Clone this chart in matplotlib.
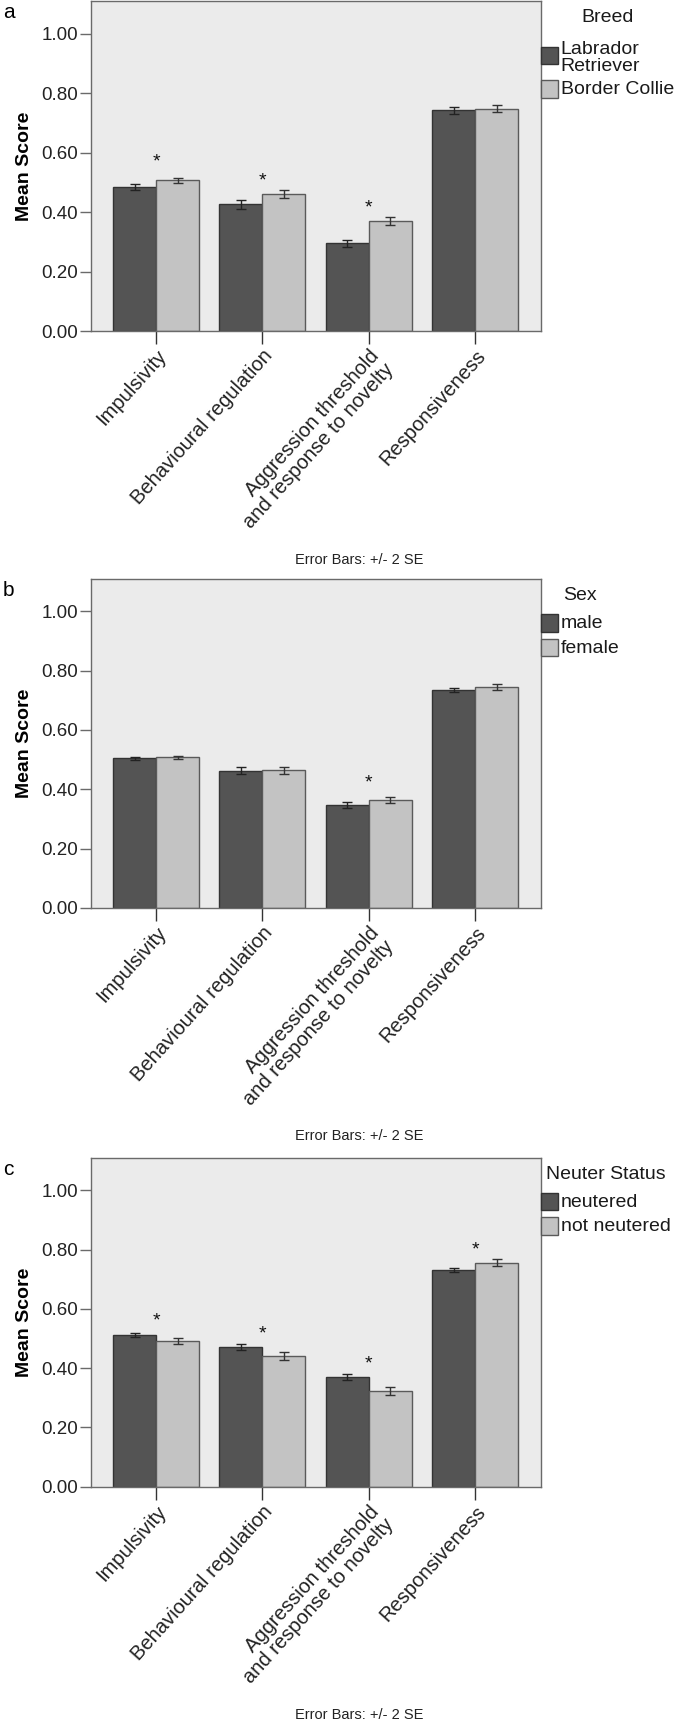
import numpy as np
import matplotlib
matplotlib.use('Agg')
import matplotlib.pyplot as plt
from matplotlib.patches import Rectangle

plt.rcParams['font.family'] = ['Liberation Sans', 'DejaVu Sans']

categories = ['Impulsivity', 'Behavioural regulation',
              'Aggression threshold\nand response to novelty', 'Responsiveness']

# panel a: breed
breed_names = ['Labrador\nRetriever', 'Border Collie']
lab_mean = [0.483, 0.427, 0.295, 0.743]
lab_err = [0.010, 0.015, 0.011, 0.012]
bc_mean = [0.507, 0.462, 0.371, 0.748]
bc_err = [0.009, 0.013, 0.014, 0.012]
breed_star = [0.567, 0.505, 0.415, None]

# panel b: sex
sex_names = ['male', 'female']
male_mean = [0.505, 0.463, 0.347, 0.735]
male_err = [0.005, 0.011, 0.010, 0.008]
female_mean = [0.508, 0.464, 0.364, 0.745]
female_err = [0.005, 0.012, 0.011, 0.010]
sex_star = [None, None, 0.423, None]

# panel c: neuter status
neuter_names = ['neutered', 'not neutered']
neut_mean = [0.512, 0.472, 0.369, 0.731]
neut_err = [0.007, 0.010, 0.010, 0.008]
notneut_mean = [0.492, 0.441, 0.323, 0.755]
notneut_err = [0.010, 0.014, 0.012, 0.012]
neuter_star = [0.558, 0.514, 0.414, 0.798]

yticks = [0.0, 0.2, 0.4, 0.6, 0.8, 1.0]

dark = '#545454'
light = '#c3c3c3'
bg = '#ebebeb'
spine = '#6a6a6a'

fig = plt.figure(figsize=(6.75, 17.22), dpi=100)
W, H = 675, 1722

def fx(px):
    return px / W

def fy(py):
    return 1 - py / H

# letter, legend title, names, series..., axes top/bottom (px), legend patch tops (px below axes top)
panels = [
    ('a', 'Breed', breed_names, lab_mean, lab_err, bc_mean, bc_err, breed_star, 1, 331, (45.7, 79.0)),
    ('b', 'Sex', sex_names, male_mean, male_err, female_mean, female_err, sex_star, 578.7, 908, (35.3, 60.0)),
    ('c', 'Neuter Status', neuter_names, neut_mean, neut_err, notneut_mean, notneut_err, neuter_star, 1157.7, 1486.7, (35.0, 59.3)),
]

x = np.arange(len(categories))
bw = 0.404
ax_left, ax_w = 90.7, 450

fig.canvas.draw()
renderer = fig.canvas.get_renderer()

for letter, title, names, m1, e1, m2, e2, stars, top, bottom, ptops in panels:
    ax = fig.add_axes([fx(ax_left), fy(bottom), ax_w / W, (bottom - top) / H])
    ax.set_facecolor(bg)
    ax.bar(x - bw / 2, m1, bw, color=dark, edgecolor='#333333', linewidth=1.0, zorder=2)
    ax.bar(x + bw / 2, m2, bw, color=light, edgecolor='#5a5a5a', linewidth=1.0, zorder=2)
    ax.errorbar(x - bw / 2, m1, yerr=e1, fmt='none', ecolor='#222222', elinewidth=1.0,
                capsize=3.8, capthick=1.0, zorder=3)
    ax.errorbar(x + bw / 2, m2, yerr=e2, fmt='none', ecolor='#333333', elinewidth=1.0,
                capsize=3.8, capthick=1.0, zorder=3)
    for xi, s in zip(x, stars):
        if s is not None:
            ax.text(xi, s, '*', ha='center', va='center', fontsize=14, color='#111111')
    ax.set_xlim(-0.614, 3.614)
    ax.set_ylim(0, 1.11)
    ax.set_yticks(yticks)
    ax.set_yticklabels(['%.2f' % v for v in yticks], fontsize=13.5, color='#222222')
    ax.set_xticks(x)
    ax.set_xticklabels(categories, rotation=48, ha='right', va='top',
                       rotation_mode='anchor', fontsize=14.5, color='#222222',
                       linespacing=1.05)
    ax.tick_params(axis='y', length=8, width=1, color=spine, pad=1)
    ax.tick_params(axis='x', length=9, width=1, color='#333333', pad=2)
    for sp in ax.spines.values():
        sp.set_color(spine)
        sp.set_linewidth(1.0)
    ax.set_ylabel('Mean Score', fontsize=14, fontweight='bold', labelpad=6)

    # legend drawn by hand, to the right of the plot frame
    pw, ph = 17.6, 17.5
    px0 = ax_left + ax_w
    right_edge = px0 + pw
    for name, col, ec, pt in zip(names, [dark, light], ['#333333', '#5a5a5a'], ptops):
        fig.patches.append(Rectangle((fx(px0), fy(top + pt + ph)), pw / W, ph / H,
                                     transform=fig.transFigure, facecolor=col,
                                     edgecolor=ec, linewidth=1.0))
        nlines = name.count('\n') + 1
        cy = top + pt + ph / 2 + (2.5 if nlines > 1 else 1.0)
        t = fig.text(fx(px0 + pw + 2.4), fy(cy), name, fontsize=14, ha='left',
                     va='center', linespacing=1.0, color='#1a1a1a')
        bb = t.get_window_extent(renderer)
        right_edge = max(right_edge, bb.x1)
    fig.text(fx((px0 + right_edge) / 2), fy(top + 17), title, fontsize=14,
             ha='center', va='center', color='#1a1a1a')

    fig.text(fx(3), fy(top + 12), letter, fontsize=15, va='center', ha='left')
    fig.text(fx(359), fy(bottom + 228.5), 'Error Bars: +/- 2 SE',
             fontsize=10.5, ha='center', va='center', color='#222222')

fig.savefig('out.png', dpi=100)
